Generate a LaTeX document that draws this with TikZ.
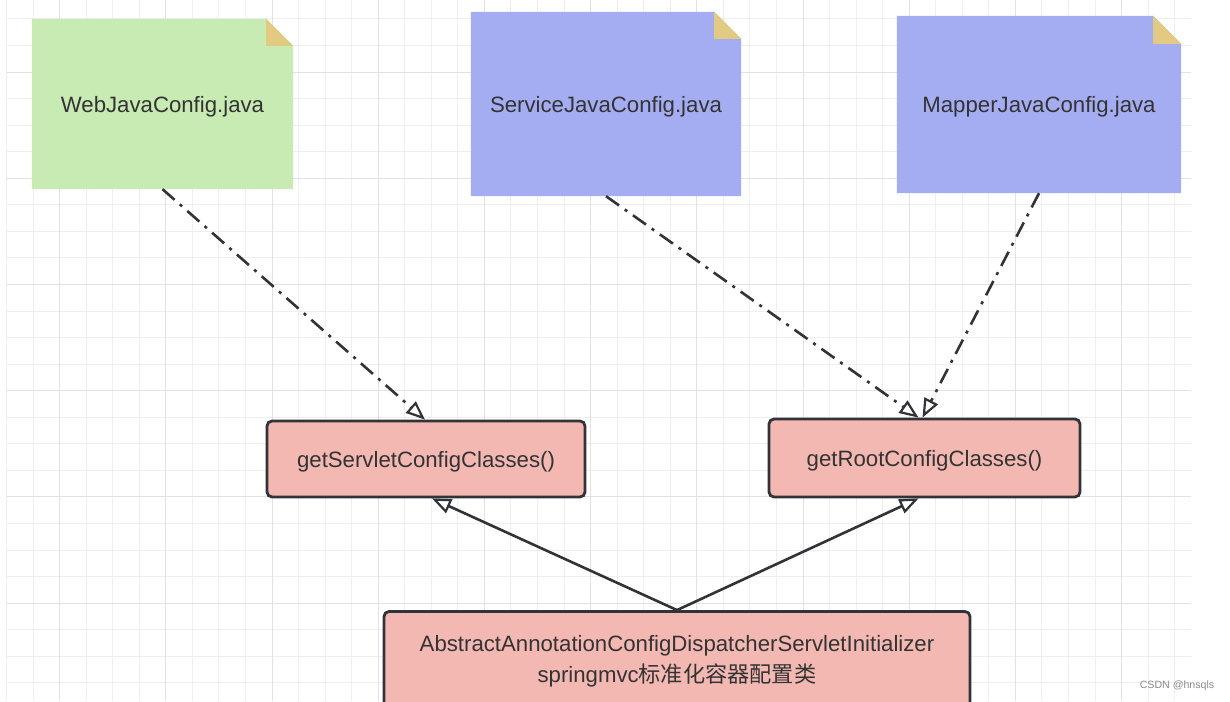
\documentclass[tikz,border=0pt]{standalone}
\usepackage{fontspec}
\setmainfont{Liberation Sans}
\newfontfamily\cjk{Noto Sans CJK SC}
\usetikzlibrary{arrows.meta,backgrounds}
\definecolor{gridminor}{HTML}{EFEFEF}
\definecolor{gridmajor}{HTML}{E2E2E2}
\definecolor{notegreen}{HTML}{C8EAB3}
\definecolor{noteblue}{HTML}{A4ADF2}
\definecolor{foldcol}{HTML}{E2CA82}
\definecolor{boxpink}{HTML}{F4B8B3}
\definecolor{ink}{HTML}{333333}
\definecolor{edgecol}{HTML}{303338}
\definecolor{wmgray}{HTML}{8A8A8A}
\begin{document}
\begin{tikzpicture}[x=1pt,y=-1pt,
  txt/.style={font=\fontsize{22.2}{31}\selectfont, text=ink},
  oneline/.style={text height=20pt, text depth=4pt},
  note/.style={txt, oneline, draw=none, inner sep=0pt},
  method/.style={txt, draw=edgecol, line width=2.8pt, rounded corners=5pt, fill=boxpink, inner sep=0pt},
  conn/.style={draw=edgecol, line width=2.6pt,
    -{Triangle[open, length=19pt, width=15pt, line width=2.2pt, fill=white]}},
  dep/.style={conn, dash pattern=on 16pt off 7pt on 3pt off 7pt},
  inh/.style={conn}
]
\useasboundingbox (0,0) rectangle (1230,701);

% grid
\begin{scope}[on background layer]
  \fill[white] (0,0) rectangle (1230,701);
  \foreach \i in {0,...,44}
    \draw[gridminor, line width=1pt] (6.5+26.55*\i,0) -- (6.5+26.55*\i,701);
  \foreach \j in {0,...,25}
    \draw[gridminor, line width=1pt] (6.5,19+26.55*\j) -- (1190.5,19+26.55*\j);
  \foreach \i in {2,6,...,42}
    \draw[gridmajor, line width=1pt] (6.5+26.55*\i,0) -- (6.5+26.55*\i,701);
  \foreach \j in {2,6,...,22}
    \draw[gridmajor, line width=1pt] (6.5,19+26.55*\j) -- (1190.5,19+26.55*\j);
\end{scope}

% notes
\node[note, minimum width=261pt, minimum height=170pt] (web) at (162.5,104) {WebJavaConfig.java};
\node[note, minimum width=270pt, minimum height=184pt] (service) at (606,104) {ServiceJavaConfig.java};
\node[note, minimum width=284pt, minimum height=177pt] (mapper) at (1039,104.5) {MapperJavaConfig.java};

\begin{scope}[on background layer]
  \foreach \n/\c/\f in {web/notegreen/27pt, service/noteblue/27pt, mapper/noteblue/28pt}{
    \fill[\c] (\n.south west) -- (\n.north west) -- ([xshift=-\f]\n.north east)
      -- ([yshift=-\f]\n.north east) -- (\n.south east) -- cycle;
    \fill[foldcol] ([xshift=-\f]\n.north east) -- ([xshift=-\f,yshift=-\f]\n.north east)
      -- ([yshift=-\f]\n.north east) -- cycle;
  }
\end{scope}

% method boxes
\node[method, oneline, minimum width=318pt, minimum height=76pt] (servlet) at (426,459) {getServletConfigClasses()};
\node[method, oneline, minimum width=311pt, minimum height=78pt] (root) at (924.5,458) {getRootConfigClasses()};
\node[method, minimum width=586pt, minimum height=99pt, align=center] (abs) at (677,661)
  {AbstractAnnotationConfigDispatcherServletInitializer\\springmvc{\cjk 标准化容器配置类}};

% connectors
\draw[dep] (web.south) -- ([xshift=-1pt]servlet.north);
\draw[dep] (service.south) -- ([xshift=-6pt]root.north);
\draw[dep] (mapper.south) -- ([xshift=-2pt]root.north);
\draw[inh] (abs.north) -- ([xshift=6pt]servlet.south);
\draw[inh] (abs.north) -- ([xshift=-6pt]root.south);

% watermark
\node[font=\fontsize{10.6}{12}\selectfont, text=wmgray] (wm) at (1177,686) {CSDN @hnsqls};
\end{tikzpicture}
\end{document}
